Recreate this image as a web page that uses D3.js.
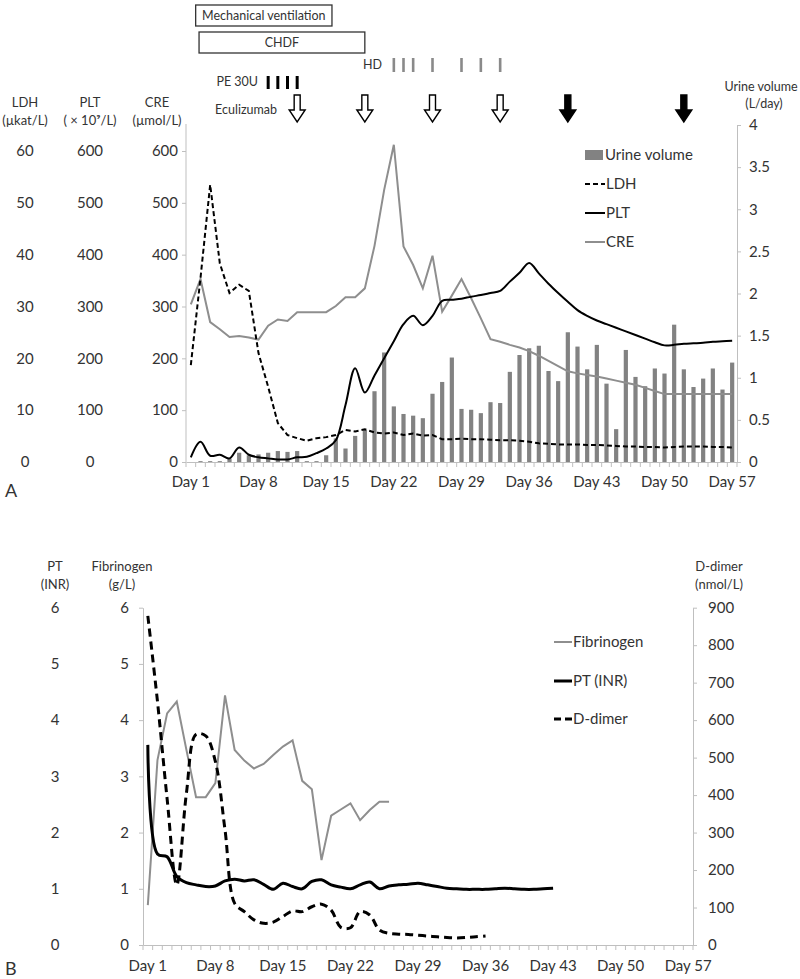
<!DOCTYPE html>
<html><head><meta charset="utf-8">
<script src="https://cdn.jsdelivr.net/npm/d3@7"></script>
<style>
body{margin:0;background:#fff}
text{font-family:Lato,"Open Sans",sans-serif;fill:#333}
</style>
</head><body>
<svg id="c" width="800" height="979"></svg>
<script>
// ---------- DATA ----------
const days = d3.range(1, 58);                       // Day 1 .. Day 57
const dayTicks = [1, 8, 15, 22, 29, 36, 43, 50, 57];

// Panel A
const urine = [0.00,0.01,0.01,0.01,0.04,0.11,0.08,0.09,0.11,0.13,
               0.12,0.13,0.01,0.01,0.08,0.28,0.16,0.31,0.38,0.84,
               1.30,0.66,0.57,0.55,0.52,0.81,0.95,1.24,0.63,0.62,
               0.58,0.71,0.70,1.07,1.27,1.35,1.38,1.08,0.96,1.54,
               1.37,1.10,1.39,0.93,0.39,1.33,1.01,0.90,1.11,1.05,
               1.63,1.10,0.89,0.99,1.11,0.86,1.18];
const ldh = [18.7,35.5,53.5,38.3,32.6,34.2,33.0,21.0,14.5,7.5,
             5.2,4.6,4.1,4.6,4.8,5.2,6.2,5.9,6.3,5.7,
             5.5,5.7,5.2,5.5,5.1,5.2,4.4,4.4,4.5,4.4,
             4.4,4.3,4.2,4.2,4.1,3.9,3.6,3.5,3.4,3.4,
             3.4,3.3,3.3,3.2,3.1,3.0,3.0,2.9,2.9,2.8,
             2.9,3.0,3.0,3.0,2.9,2.9,2.8];
const plt = [9,39,12,14,7,28,14,9,7,5,
             5,9,10,17,26,42,110,181,134,167,
             200,233,266,282,264,282,311,313,315,319,
             322,326,330,348,365,384,364,344,326,309,
             293,282,273,266,259,252,245,238,231,225,
             226,228,229,230,232,233,234];
const cre = [304,353,270,256,241,243,240,236,263,275,
             272,289,289,289,289,301,318,318,335,417,
             525,612,416,380,335,398,290,321,353,316,
             277,237,232,226,221,214,205,195,185,175,
             171,168,165,161,157,153,149,143,137,131,
             131,131,131,131,131,131,131];

const creTicks = [0,100,200,300,400,500,600];
const ldhTicks = [0,10,20,30,40,50,60];
const pltTicks = [0,100,200,300,400,500,600];
const urineTicks = [0,0.5,1,1.5,2,2.5,3,3.5,4];

// treatments (day units)
const ventilation = [1.5, 15.6];
const chdf = [1.85, 19.0];
const hdDays = [22,23,24,26,29,31,33];
const peDays = [9,10,11,12];
const eculizumabOpen = [12,19,26,33];
const eculizumabFilled = [40,52];

// Panel B
const fibrinogen = [0.71,3.29,4.12,4.33,3.47,2.63,2.63,2.88,4.44,3.47,
                    3.28,3.14,3.22,3.38,3.53,3.64,2.92,2.77,1.51,2.30,
                    2.41,2.52,2.22,2.40,2.55,2.55];
const ptinr = [3.56,1.62,1.57,1.22,1.11,1.07,1.04,1.05,1.14,1.17,
               1.14,1.16,1.08,0.99,1.10,1.04,1.00,1.13,1.16,1.07,
               1.03,1.00,1.07,1.12,1.00,1.05,1.07,1.08,1.10,1.07,
               1.04,1.01,1.00,0.99,0.99,0.99,1.00,1.01,1.00,0.99,
               0.99,1.00,1.01];
const ddimer = [878,650,390,160,405,562,558,490,307,111,
                89,67,58,61,76,91,89,102,109,93,
                47,46,89,80,40,31,29,28,26,24,
                22,20,19,20,22,24];
const sixTicks = [0,1,2,3,4,5,6];
const ddTicks = [0,100,200,300,400,500,600,700,800,900];

// ---------- DRAW ----------
const svg = d3.select("#c");
const axisCol = "#bfbfbf";
const barCol = "#828282";
const greyLine = "#8e8e8e";
const FS = 15;

function catTicks(g, x, y0) {
  const r = x.range(), step = x.step();
  g.selectAll(null).data(d3.range(days.length + 1)).join("line")
    .attr("x1", i => r[0] + i*step).attr("x2", i => r[0] + i*step)
    .attr("y1", y0).attr("y2", y0 + 5).attr("stroke", axisCol);
}
function styleAxis(g) {
  g.select(".domain").attr("stroke", axisCol);
  g.selectAll(".tick line").attr("stroke", axisCol);
  g.selectAll(".tick text").attr("fill", "#333").style("font-size", FS + "px")
    .style("font-family", 'Lato,"Open Sans",sans-serif');
}

// ===== Panel A =====
const xA = d3.scaleBand().domain(days).range([186, 737]);
const dayPosA = d3.scaleLinear().domain([0.5, 57.5]).range([186, 737]);
const yA = d3.scaleLinear().domain([0, 600]).range([462, 151]);
const yLDH = d3.scaleLinear().domain([0, 60]).range([462, 151]);
const yU = d3.scaleLinear().domain([0, 4]).range([462, 125]);
const cx = d => xA(d) + xA.bandwidth()/2;
const topA = 124;

// bars
svg.append("g").selectAll("rect").data(urine).join("rect")
  .attr("x", (v,i) => cx(days[i]) - 2.1).attr("width", 4.2)
  .attr("y", v => yU(v)).attr("height", v => yU(0) - yU(v)).attr("fill", barCol);

// axes
const gL = svg.append("g").attr("transform", "translate(186,0)")
  .call(d3.axisLeft(yA).tickValues(creTicks).tickSize(4).tickPadding(4).tickSizeOuter(0));
styleAxis(gL);
gL.select(".domain").remove();
gL.append("line").attr("x1",0).attr("x2",0).attr("y1",topA).attr("y2",462).attr("stroke",axisCol);

const gR = svg.append("g").attr("transform", "translate(737,0)")
  .call(d3.axisRight(yU).tickValues(urineTicks).tickSize(4).tickPadding(8).tickSizeOuter(0).tickFormat(d => d));
styleAxis(gR);

const gX = svg.append("g").attr("transform", "translate(0,462)")
  .call(d3.axisBottom(xA).tickValues(dayTicks).tickSize(0).tickPadding(14).tickFormat(d => "Day " + d));
styleAxis(gX);
catTicks(svg.append("g"), xA, 462);

// LDH / PLT label columns
svg.append("g").selectAll("text").data(ldhTicks).join("text")
  .attr("x", 25).attr("y", d => yLDH(d)).attr("dy", "0.35em").attr("text-anchor", "middle")
  .style("font-size", FS + "px").text(d => d);
svg.append("g").selectAll("text").data(pltTicks).join("text")
  .attr("x", 90).attr("y", d => yA(d)).attr("dy", "0.35em").attr("text-anchor", "middle")
  .style("font-size", FS + "px").text(d => d);

// headers
const hdr = (x, y, t, size, anchor) => svg.append("text").attr("x", x).attr("y", y)
  .attr("text-anchor", anchor || "middle").style("font-size", size + "px").text(t);
hdr(25, 107, "LDH", 13); hdr(25, 125, "(µkat/L)", 13);
hdr(90, 107, "PLT", 13); hdr(90, 125, "( × 10⁹/L)", 13);
hdr(157, 107, "CRE", 13); hdr(157, 125, "(µmol/L)", 13);
hdr(761, 91, "Urine volume", 12.5); hdr(764, 108, "(L/day)", 12.5);

// lines
const lineA = (accY, curve) => d3.line().x((v,i) => cx(days[i])).y(accY).curve(curve || d3.curveLinear);
svg.append("path").datum(cre).attr("d", lineA(v => yA(v)))
  .attr("fill","none").attr("stroke", greyLine).attr("stroke-width", 2);
svg.append("path").datum(plt).attr("d", lineA(v => yA(v), d3.curveCatmullRom.alpha(0.5)))
  .attr("fill","none").attr("stroke", "#000").attr("stroke-width", 2);
svg.append("path").datum(ldh).attr("d", lineA(v => yLDH(v)))
  .attr("fill","none").attr("stroke", "#000").attr("stroke-width", 2).attr("stroke-dasharray", "5,3");

// legend A
const legA = svg.append("g");
legA.append("rect").attr("x", 585).attr("y", 150).attr("width", 18).attr("height", 10).attr("fill", barCol);
legA.append("text").attr("x", 605).attr("y", 155).attr("dy","0.35em").style("font-size", FS+"px").text("Urine volume");
const legItemsA = [["LDH","#000","5,3",184],["PLT","#000",null,213],["CRE",greyLine,null,242]];
legItemsA.forEach(([t,c,dash,y]) => {
  const l = legA.append("line").attr("x1",585).attr("x2",605).attr("y1",y).attr("y2",y)
    .attr("stroke",c).attr("stroke-width",2);
  if (dash) l.attr("stroke-dasharray", dash);
  legA.append("text").attr("x",606).attr("y",y).attr("dy","0.35em").style("font-size",FS+"px").text(t);
});

// treatment annotations
const ann = svg.append("g");
ann.append("rect").attr("x", dayPosA(ventilation[0])).attr("y", 5)
  .attr("width", dayPosA(ventilation[1]) - dayPosA(ventilation[0])).attr("height", 21)
  .attr("fill","#fff").attr("stroke","#333").attr("stroke-width",1.3);
ann.append("text").attr("x", (dayPosA(ventilation[0])+dayPosA(ventilation[1]))/2).attr("y", 15.5)
  .attr("dy","0.35em").attr("text-anchor","middle").style("font-size","12.5px").text("Mechanical ventilation");
ann.append("rect").attr("x", dayPosA(chdf[0])).attr("y", 32)
  .attr("width", dayPosA(chdf[1]) - dayPosA(chdf[0])).attr("height", 21)
  .attr("fill","#fff").attr("stroke","#333").attr("stroke-width",1.3);
ann.append("text").attr("x", (dayPosA(chdf[0])+dayPosA(chdf[1]))/2).attr("y", 42.5)
  .attr("dy","0.35em").attr("text-anchor","middle").style("font-size","12.5px").text("CHDF");
ann.append("text").attr("x", 382).attr("y", 65).attr("dy","0.35em").attr("text-anchor","end")
  .style("font-size","12.5px").text("HD");
ann.selectAll(".hd").data(hdDays).join("rect").attr("class","hd")
  .attr("x", d => cx(d) - 1.3).attr("width", 2.6).attr("y", 58).attr("height", 14).attr("fill", "#8a8a8a");
ann.append("text").attr("x", 258).attr("y", 82).attr("dy","0.35em").attr("text-anchor","end")
  .style("font-size","12.5px").text("PE 30U");
ann.selectAll(".pe").data(peDays).join("rect").attr("class","pe")
  .attr("x", d => cx(d) - 1.5).attr("width", 3).attr("y", 76).attr("height", 13).attr("fill", "#000");
ann.append("text").attr("x", 277).attr("y", 110).attr("dy","0.35em").attr("text-anchor","end")
  .style("font-size","12.5px").text("Eculizumab");
function arrow(c) {
  return `M${c-3},95 L${c+3},95 L${c+3},110 L${c+8},110 L${c},122 L${c-8},110 L${c-3},110 Z`;
}
ann.selectAll(".ao").data(eculizumabOpen).join("path").attr("class","ao")
  .attr("d", d => arrow(cx(d))).attr("fill","#fff").attr("stroke","#000").attr("stroke-width",1.4);
ann.selectAll(".af").data(eculizumabFilled).join("path").attr("class","af")
  .attr("d", d => arrow(cx(d))).attr("fill","#000").attr("stroke","#000").attr("stroke-width",1.4);

svg.append("text").attr("x", 5).attr("y", 497).style("font-size","18px").text("A");

// ===== Panel B =====
const xB = d3.scaleBand().domain(days).range([143, 693]);
const cxB = d => xB(d) + xB.bandwidth()/2;
const yB = d3.scaleLinear().domain([0, 6]).range([945, 607.7]);
const yDD = d3.scaleLinear().domain([0, 900]).range([945, 607.7]);

const gBL = svg.append("g").attr("transform","translate(143,0)")
  .call(d3.axisLeft(yB).tickValues(sixTicks).tickSize(4).tickPadding(10).tickSizeOuter(0).tickFormat(d => d));
styleAxis(gBL);
const gBR = svg.append("g").attr("transform","translate(693,0)")
  .call(d3.axisRight(yDD).tickValues(ddTicks).tickSize(4).tickPadding(11).tickSizeOuter(0).tickFormat(d => d));
styleAxis(gBR);
const gBX = svg.append("g").attr("transform","translate(0,945)")
  .call(d3.axisBottom(xB).tickValues(dayTicks).tickSize(0).tickPadding(15).tickFormat(d => "Day " + d));
styleAxis(gBX);
catTicks(svg.append("g"), xB, 945);

svg.append("g").selectAll("text").data(sixTicks).join("text")
  .attr("x", 55).attr("y", d => yB(d)).attr("dy","0.35em").attr("text-anchor","middle")
  .style("font-size", FS+"px").text(d => d);

hdr(55, 571, "PT", 13); hdr(55, 589, "(INR)", 13);
hdr(122, 571, "Fibrinogen", 13); hdr(122, 589, "(g/L)", 13);
hdr(719, 571, "D-dimer", 13); hdr(719, 589, "(nmol/L)", 13);

const lineB = (accY, curve) => d3.line().x((v,i) => cxB(days[i])).y(accY).curve(curve || d3.curveLinear);
svg.append("path").datum(fibrinogen).attr("d", lineB(v => yB(v)))
  .attr("fill","none").attr("stroke", greyLine).attr("stroke-width", 2);
svg.append("path").datum(ptinr).attr("d", lineB(v => yB(v), d3.curveCatmullRom.alpha(0.5)))
  .attr("fill","none").attr("stroke", "#000").attr("stroke-width", 3);
svg.append("path").datum(ddimer).attr("d", lineB(v => yDD(v), d3.curveCatmullRom.alpha(0.5)))
  .attr("fill","none").attr("stroke", "#000").attr("stroke-width", 3).attr("stroke-dasharray", "8,5");

const legB = svg.append("g");
[["Fibrinogen", greyLine, null, 2, 642], ["PT (INR)", "#000", null, 3, 681], ["D-dimer", "#000", "7,4", 3, 719]]
.forEach(([t,c,dash,w,y]) => {
  const l = legB.append("line").attr("x1",554).attr("x2",572).attr("y1",y).attr("y2",y)
    .attr("stroke",c).attr("stroke-width",w);
  if (dash) l.attr("stroke-dasharray", dash);
  legB.append("text").attr("x",573).attr("y",y).attr("dy","0.35em").style("font-size",FS+"px").text(t);
});

svg.append("text").attr("x", 5).attr("y", 975).style("font-size","18px").text("B");
</script>
</body></html>
